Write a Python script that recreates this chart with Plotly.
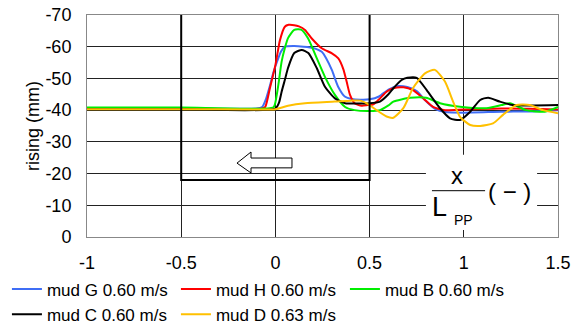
import plotly.graph_objects as go

# ---- data ----
g_x = [-1.0, -0.5, -0.1, -0.07, -0.05, -0.03, -0.01, 0.01, 0.03, 0.05, 0.1, 0.15, 0.2, 0.246, 0.27, 0.3, 0.333, 0.37, 0.405, 0.45, 0.5, 0.55, 0.6, 0.65, 0.7, 0.75, 0.8, 0.85, 0.9, 1.0, 1.2, 1.35, 1.5]
g_y = [-40.5, -40.6, -40.5, -41.0, -43.5, -47.5, -52.0, -55.5, -58.5, -60.0, -60.2, -60.0, -59.6, -58.4, -56.3, -52.6, -47.4, -44.2, -43.5, -43.3, -43.4, -44.3, -46.5, -47.6, -47.3, -46.0, -42.8, -40.3, -39.4, -39.2, -39.5, -39.6, -40.0]

h_x = [-1.0, -0.5, -0.07, -0.054, -0.029, 0.0, 0.024, 0.05, 0.07, 0.1, 0.125, 0.157, 0.193, 0.246, 0.3, 0.334, 0.36, 0.378, 0.396, 0.42, 0.458, 0.49, 0.52, 0.555, 0.59, 0.625, 0.68, 0.73, 0.785, 0.837, 0.9, 1.0, 1.2, 1.35, 1.5]
h_y = [-40.5, -40.5, -40.5, -41.0, -47.0, -54.2, -62.0, -66.3, -66.9, -66.8, -66.4, -65.3, -62.6, -59.5, -57.9, -56.3, -53.0, -49.0, -44.8, -42.2, -41.4, -41.6, -41.8, -43.7, -45.8, -46.9, -47.2, -46.3, -43.7, -41.0, -40.0, -40.2, -40.5, -40.4, -40.2]

b_x = [-1.0, -0.5, -0.01, 0.0, 0.017, 0.033, 0.05, 0.067, 0.1, 0.136, 0.173, 0.22, 0.263, 0.316, 0.37, 0.42, 0.5, 0.555, 0.6, 0.626, 0.715, 0.8, 0.874, 0.98, 1.12, 1.2, 1.245, 1.33, 1.43, 1.5]
b_y = [-40.8, -40.8, -40.9, -42.5, -48.5, -55.3, -59.5, -62.7, -65.3, -65.4, -62.7, -56.3, -50.5, -44.8, -41.0, -40.0, -39.7, -40.0, -41.5, -42.7, -43.9, -43.9, -42.2, -41.1, -40.6, -41.6, -42.2, -40.0, -39.5, -41.0]

c_x = [-1.0, -0.5, 0.0, 0.02, 0.033, 0.05, 0.067, 0.1, 0.14, 0.175, 0.22, 0.263, 0.316, 0.37, 0.5, 0.555, 0.6, 0.626, 0.67, 0.7, 0.75, 0.803, 0.874, 0.927, 0.98, 1.034, 1.087, 1.13, 1.19, 1.26, 1.5]
c_y = [-40.3, -40.3, -40.5, -42.5, -45.8, -49.5, -53.3, -58.0, -59.0, -58.0, -53.2, -47.4, -43.7, -42.2, -42.2, -42.7, -45.0, -46.9, -49.5, -50.2, -50.2, -46.3, -40.6, -37.4, -36.9, -39.5, -43.2, -43.9, -42.7, -41.6, -41.6]

d_x = [-1.0, -0.5, -0.1, 0.0, 0.067, 0.157, 0.316, 0.4, 0.45, 0.49, 0.52, 0.59, 0.626, 0.68, 0.73, 0.794, 0.846, 0.9, 0.943, 0.98, 1.034, 1.087, 1.155, 1.208, 1.28, 1.35, 1.42, 1.5]
d_y = [-40.3, -40.3, -40.2, -40.3, -41.4, -42.2, -42.7, -43.0, -43.0, -42.0, -40.7, -38.0, -37.6, -40.7, -46.9, -51.6, -52.7, -49.0, -42.7, -37.9, -35.3, -35.0, -35.8, -38.5, -41.6, -41.6, -40.0, -39.0]

series_names = ["mud G 0.60 m/s", "mud H 0.60 m/s", "mud B 0.60 m/s", "mud C 0.60 m/s", "mud D 0.63 m/s"]
series_colors = ["#3f6df5", "#ff0000", "#00ee00", "#000000", "#ffc000"]

x_tick_vals = [-1, -0.5, 0, 0.5, 1, 1.5]
x_tick_text = ["-1", "-0.5", "0", "0.5", "1", "1.5"]
y_tick_vals = [0, -10, -20, -30, -40, -50, -60, -70]
y_tick_text = ["0", "-10", "-20", "-30", "-40", "-50", "-60", "-70"]

FONT = "Liberation Sans, Arial, sans-serif"

fig = go.Figure()
for xs, ys, name, col in zip([g_x, h_x, b_x, c_x, d_x], [g_y, h_y, b_y, c_y, d_y], series_names, series_colors):
    fig.add_trace(go.Scatter(x=xs, y=ys, mode="lines", name=name,
                             line=dict(color=col, width=2, shape="spline", smoothing=0.6)))

shapes = [
    # ship outline frame
    dict(type="path", path="M -0.5,-70 L -0.5,-18 L 0.5,-18 L 0.5,-70",
         xref="x", yref="y", line=dict(color="black", width=2)),
    # hollow arrow
    dict(type="path",
         path="M 0.088,-24.9 L -0.1295,-24.9 L -0.1295,-26.8 L -0.204,-23.3 L -0.1295,-20.2 L -0.1295,-21.8 L 0.088,-21.8 Z",
         xref="x", yref="y", line=dict(color="black", width=1), fillcolor="white"),
    # white box behind axis label
    dict(type="rect", x0=0.799, x1=1.389, y0=-25.9, y1=-2.2, xref="x", yref="y",
         line=dict(width=0), fillcolor="white", layer="above"),
    # fraction bar
    dict(type="line", x0=0.831, x1=1.113, y0=-14.6, y1=-14.6, xref="x", yref="y",
         line=dict(color="black", width=1), layer="above"),
]

annotations = [
    dict(x=0.964, y=-19.55, text="x", showarrow=False, font=dict(family=FONT, size=24, color="black"),
         xanchor="center", yanchor="middle"),
    dict(x=0.869, y=-9.55, text="L", showarrow=False, font=dict(family=FONT, size=27, color="black"),
         xanchor="center", yanchor="middle"),
    dict(x=0.996, y=-5.36, text="PP", showarrow=False, font=dict(family=FONT, size=14, color="black"),
         xanchor="center", yanchor="middle"),
    dict(x=1.245, y=-14.2, text="( − )", showarrow=False, font=dict(family=FONT, size=24, color="black"),
         xanchor="center", yanchor="middle"),
]

fig.update_layout(
    width=582, height=326, autosize=False,
    margin=dict(l=87, r=24, t=15, b=89, autoexpand=False),
    paper_bgcolor="white", plot_bgcolor="white",
    font=dict(family=FONT, size=17, color="black"),
    shapes=shapes, annotations=annotations,
    legend=dict(orientation="h", x=-0.170, y=-0.1555, xanchor="left", yanchor="top",
                entrywidth=124, entrywidthmode="pixels", itemwidth=30,
                font=dict(family=FONT, size=17), bgcolor="rgba(0,0,0,0)", tracegroupgap=0),
)
fig.update_xaxes(range=[-1, 1.5], tickvals=x_tick_vals, ticktext=x_tick_text,
                 showgrid=True, gridcolor="#222222", gridwidth=1, zeroline=False,
                 showline=True, linecolor="#888888", linewidth=1, mirror=True,
                 ticks="", tickfont=dict(size=18), ticklabelstandoff=9)
fig.update_yaxes(range=[0, -70], tickvals=y_tick_vals, ticktext=y_tick_text,
                 showgrid=True, gridcolor="#222222", gridwidth=1, zeroline=False,
                 showline=True, linecolor="#888888", linewidth=1, mirror=True,
                 ticks="", tickfont=dict(size=18), ticklabelstandoff=11,
                 title=dict(text="rising (mm)", font=dict(size=18), standoff=1))

fig.write_html("out.html", config={"displayModeBar": False},
               post_script="document.body.style.margin='0px';")
